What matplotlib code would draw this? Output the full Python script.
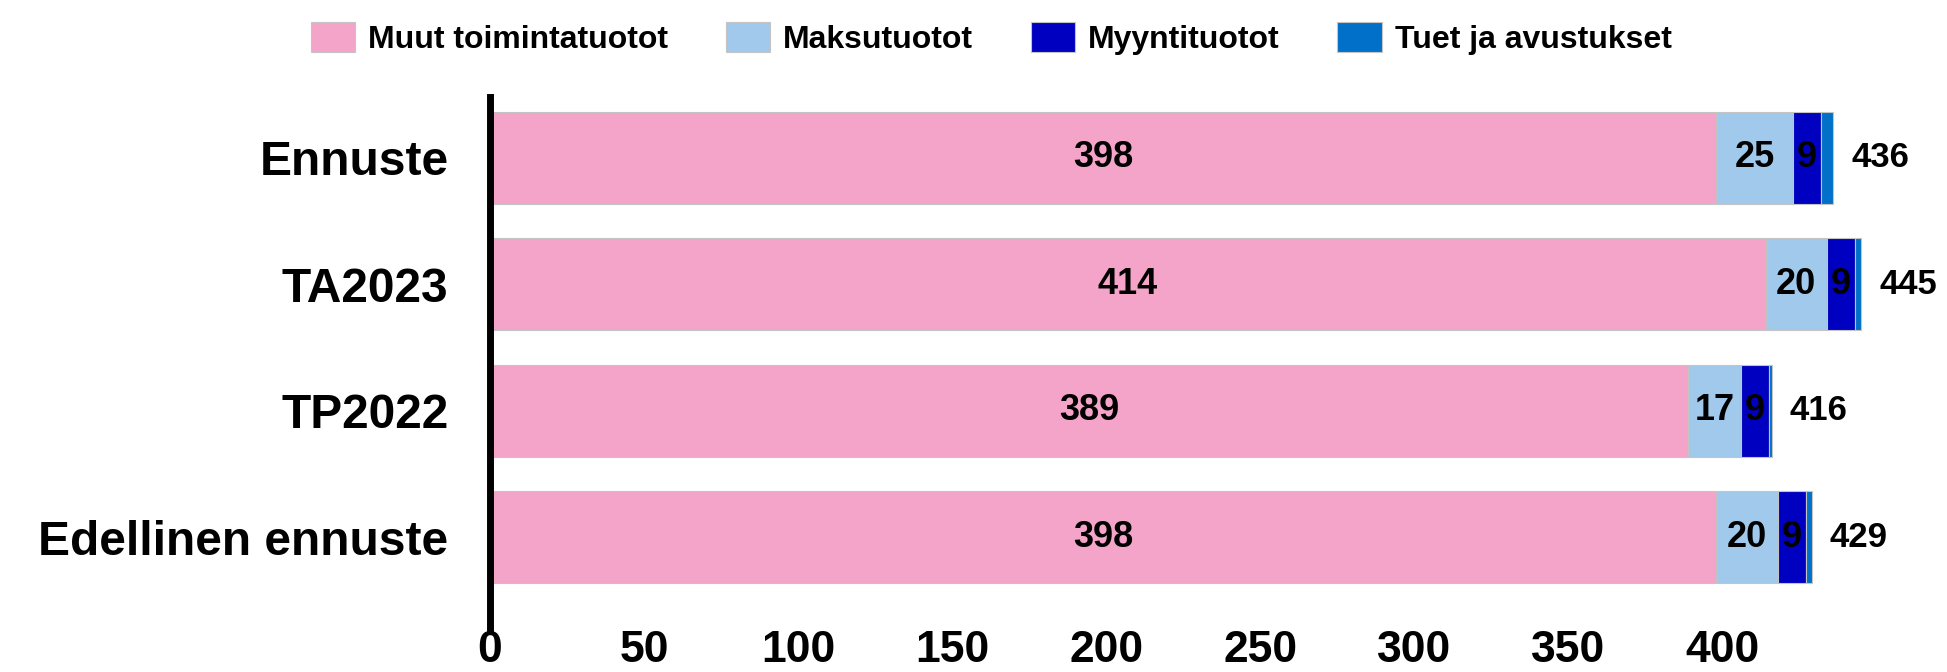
import matplotlib.pyplot as plt
import numpy as np

plt.rcParams['font.family'] = ['Liberation Sans', 'DejaVu Sans']
plt.rcParams['font.weight'] = 'bold'

categories = ['Ennuste', 'TA2023', 'TP2022', 'Edellinen ennuste']
series_names = ['Muut toimintatuotot', 'Maksutuotot', 'Myyntituotot', 'Tuet ja avustukset']
muut = [398, 414, 389, 398]
maksu = [25, 20, 17, 20]
myynti = [9, 9, 9, 9]
tuet = [4, 2, 1, 2]
colors = ['#F4A4C8', '#A0C9EB', '#0000C0', '#0070C8']
xticks = [0, 50, 100, 150, 200, 250, 300, 350, 400]

fig = plt.figure(figsize=(19.47, 6.72), dpi=100)
ax = fig.add_axes([0.2517, 0.062, 0.7437, 0.7937])

y = np.arange(len(categories))[::-1]
series = [muut, maksu, myynti, tuet]
left = np.zeros(len(categories))
for i, (vals, name, col) in enumerate(zip(series, series_names, colors)):
    vals = np.array(vals, dtype=float)
    ax.barh(y, vals, left=left, height=0.73, color=col, label=name,
            edgecolor='#c4c4c4', linewidth=0.8)
    # value labels for the three largest segments
    if i < 3:
        for yy, l, v in zip(y, left, vals):
            ax.text(l + v / 2, yy, f'{v:.0f}', ha='center', va='center',
                    fontsize=26, fontweight='bold', color='black')
    left = left + vals

# totals at bar ends
for yy, tot in zip(y, left):
    ax.annotate(f'{tot:.0f}', (tot, yy), xytext=(13, 0), textcoords='offset points',
                ha='left', va='center', fontsize=25, fontweight='bold')

ax.set_xlim(0, 470)
ax.set_ylim(-0.736, 3.48)
ax.set_xticks(xticks)
ax.set_xticklabels([str(t) for t in xticks], fontsize=32, fontweight='bold')
ax.set_yticks(y)
ax.set_yticklabels(categories, fontsize=34.5, fontweight='bold')
ax.tick_params(axis='x', length=0, pad=0)
ax.tick_params(axis='y', length=0, pad=30)
for s in ['top', 'right', 'bottom']:
    ax.spines[s].set_visible(False)
ax.spines['left'].set_linewidth(5)
ax.spines['left'].set_color('black')

fig.legend(loc='center', bbox_to_anchor=(0.509, 0.943), ncol=4, frameon=False,
           prop={'size': 23, 'weight': 'bold'}, handlelength=1.4, handleheight=1.1,
           handletextpad=0.4, columnspacing=1.8)

fig.savefig('out.png', dpi=100)
